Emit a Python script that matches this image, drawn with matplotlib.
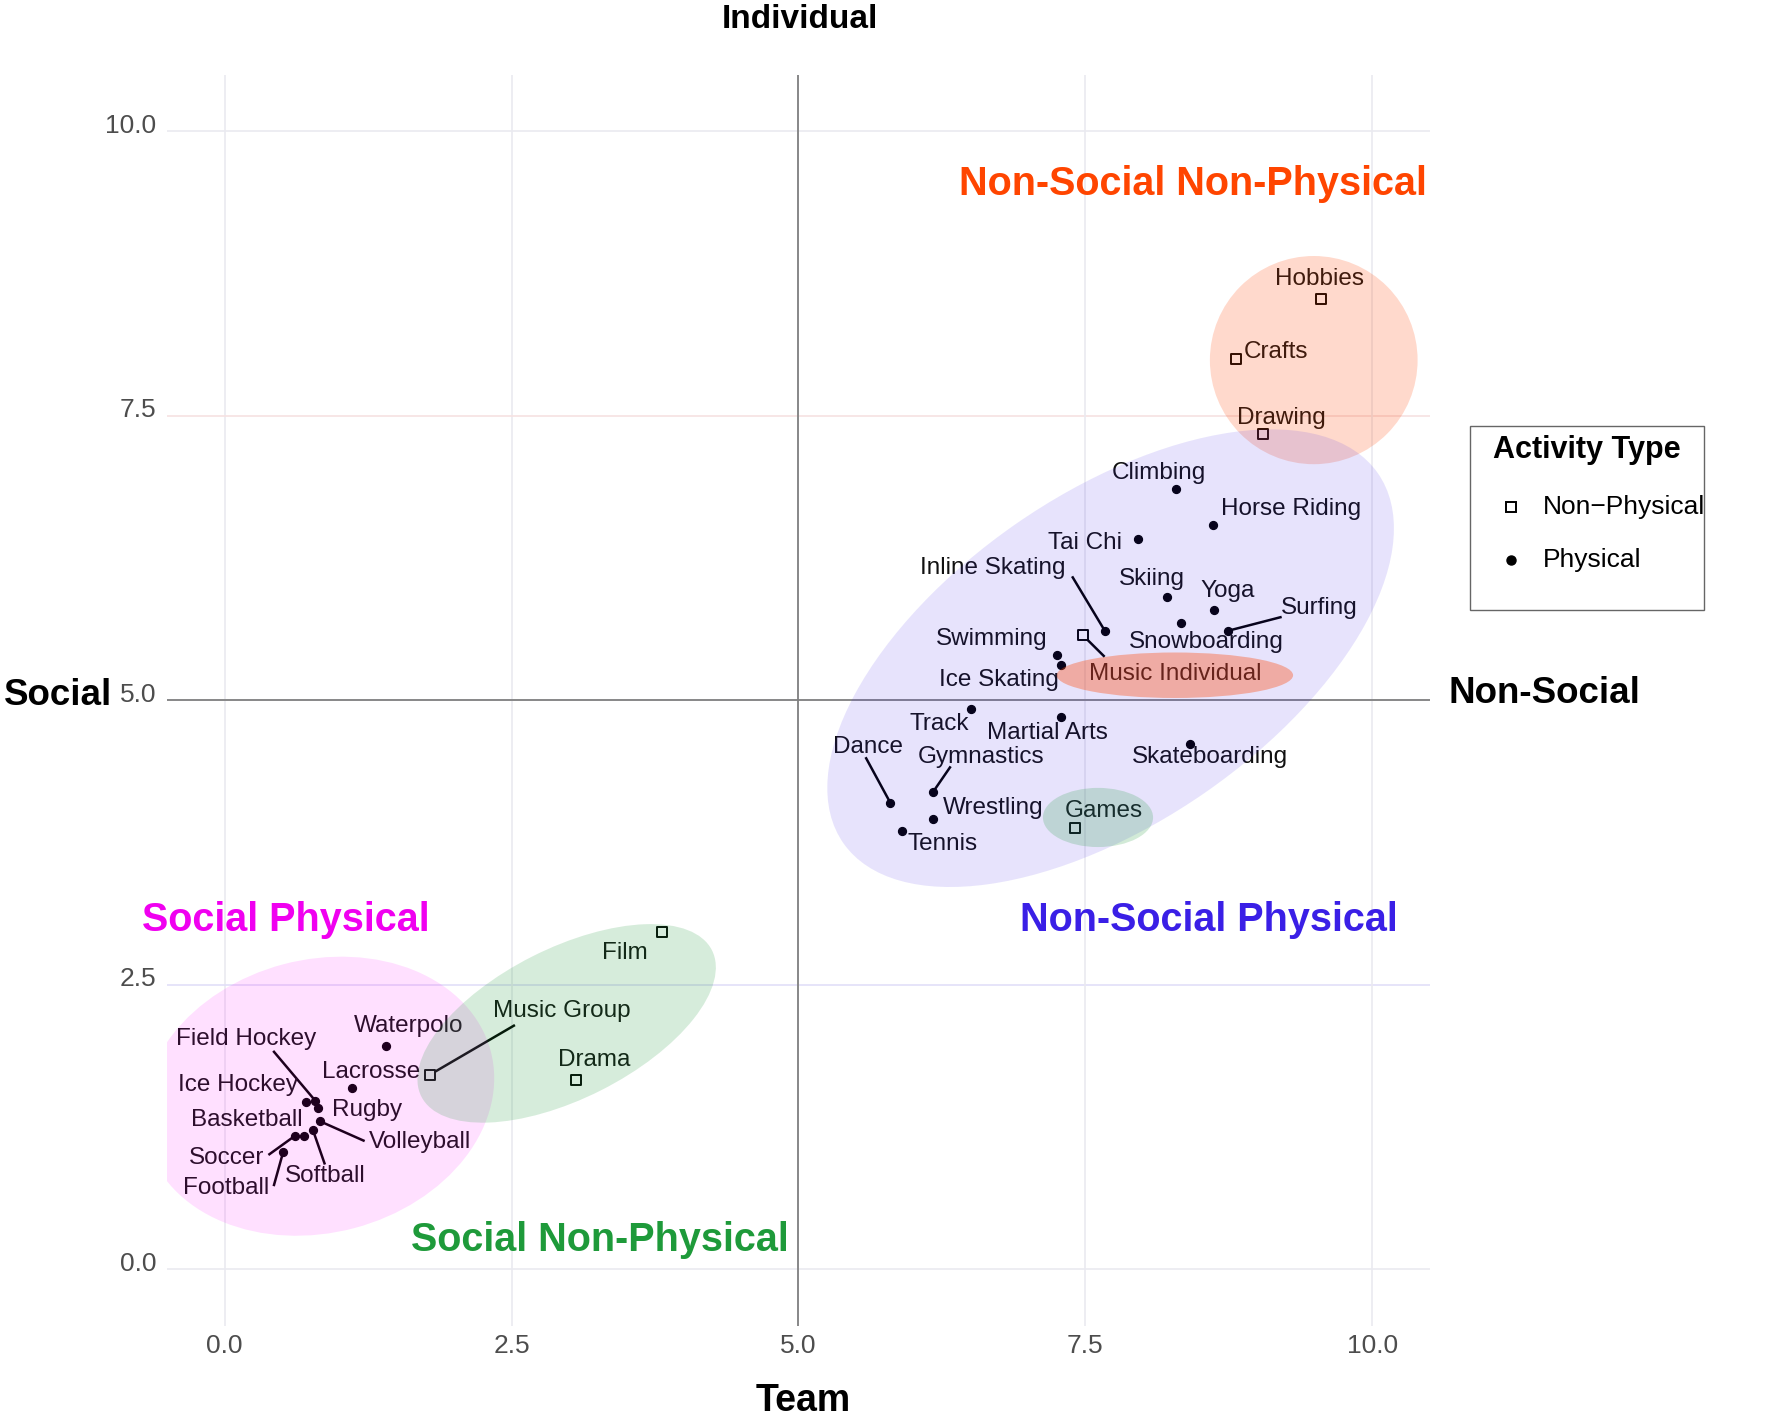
import numpy as np
import matplotlib
matplotlib.use("Agg")
import matplotlib.pyplot as plt
from matplotlib.patches import Ellipse, Rectangle
from matplotlib.lines import Line2D
from matplotlib.transforms import ScaledTranslation

plt.rcParams['font.family'] = ['Liberation Sans', 'DejaVu Sans']

# activities and their scores
activities = ["Hobbies", "Crafts", "Drawing", "Music Individual", "Games", "Film",
              "Music Group", "Drama",
              "Climbing", "Horse Riding", "Tai Chi", "Inline Skating", "Skiing", "Yoga",
              "Snowboarding", "Surfing", "Swimming", "Ice Skating", "Track", "Martial Arts",
              "Skateboarding", "Gymnastics", "Dance", "Wrestling", "Tennis", "Waterpolo",
              "Lacrosse", "Field Hockey", "Ice Hockey", "Rugby", "Volleyball", "Softball",
              "Basketball", "Soccer", "Football"]
team_score = [9.55, 8.81, 9.05, 7.48, 7.41, 3.81, 1.79, 3.06,
              8.29, 8.61, 7.96, 7.67, 8.21, 8.62, 8.33, 8.74, 7.25, 7.29, 6.50, 7.29,
              8.41, 6.17, 5.80, 6.17, 5.90, 1.41, 1.11, 0.79, 0.71, 0.81, 0.83, 0.77,
              0.69, 0.61, 0.51]
social_score = [8.53, 8.00, 7.34, 5.57, 3.88, 2.96, 1.71, 1.66,
                6.86, 6.54, 6.42, 5.61, 5.91, 5.79, 5.68, 5.61, 5.40, 5.31, 4.92, 4.85,
                4.62, 4.19, 4.10, 3.96, 3.85, 1.96, 1.59, 1.48, 1.47, 1.42, 1.30, 1.22,
                1.17, 1.17, 1.03]
activity_type = ["Non\u2212Physical"] * 8 + ["Physical"] * 27

quadrant_names = ["Non-Social Non-Physical", "Non-Social Physical",
                  "Social Physical", "Social Non-Physical"]
ticks = [0.0, 2.5, 5.0, 7.5, 10.0]

# label placement (repel-style), centre of each label
label_pos = {
    "Hobbies": (9.54, 8.70), "Crafts": (9.16, 8.06), "Drawing": (9.21, 7.48),
    "Music Individual": (8.28, 5.23), "Games": (7.66, 4.03), "Film": (3.49, 2.78),
    "Music Group": (2.94, 2.27), "Drama": (3.22, 1.84),
    "Climbing": (8.14, 7.00), "Horse Riding": (9.29, 6.68), "Tai Chi": (7.50, 6.38),
    "Inline Skating": (6.69, 6.16), "Skiing": (8.08, 6.07), "Yoga": (8.74, 5.96),
    "Snowboarding": (8.55, 5.51), "Surfing": (9.54, 5.81), "Swimming": (6.68, 5.54),
    "Ice Skating": (6.75, 5.18), "Track": (6.23, 4.79), "Martial Arts": (7.17, 4.71),
    "Skateboarding": (8.59, 4.50), "Gymnastics": (6.59, 4.50), "Dance": (5.61, 4.59),
    "Wrestling": (6.70, 4.05), "Tennis": (6.26, 3.74), "Waterpolo": (1.60, 2.14),
    "Lacrosse": (1.28, 1.73), "Field Hockey": (0.19, 2.02), "Ice Hockey": (0.12, 1.62),
    "Rugby": (1.24, 1.40), "Volleyball": (1.70, 1.12), "Softball": (0.88, 0.82),
    "Basketball": (0.19, 1.31), "Soccer": (0.02, 0.98), "Football": (0.01, 0.71),
}
# where each leader segment meets its label
segment_end = {
    "Field Hockey": (0.43, 1.91), "Football": (0.43, 0.74), "Soccer": (0.39, 1.01),
    "Softball": (0.87, 0.93), "Volleyball": (1.21, 1.13), "Music Group": (2.52, 2.14),
    "Inline Skating": (7.39, 6.08), "Music Individual": (7.66, 5.39),
    "Surfing": (9.20, 5.73), "Dance": (5.59, 4.49), "Gymnastics": (6.32, 4.41),
}

fig = plt.figure(figsize=(17.72, 14.17), dpi=100)
ax = fig.add_axes([0.0944, 0.0642, 0.7124, 0.8832])
ax.set_xlim(-0.5, 10.5)
ax.set_ylim(-0.5, 10.5)
for s in ax.spines.values():
    s.set_visible(False)
ax.set_xticks(ticks)
ax.set_yticks(ticks)
ax.set_xticklabels([f"{t:.1f}" for t in ticks])
ax.set_yticklabels([f"{t:.1f}" for t in ticks])
ax.tick_params(length=0, labelsize=19, labelcolor='#4D4D4D')
ax.tick_params(axis='y', pad=8)
ax.tick_params(axis='x', pad=6)
for lab in ax.get_yticklabels():
    lab.set_transform(lab.get_transform() + ScaledTranslation(0, 0.08, fig.dpi_scale_trans))

grid_col = {0.0: '#EAEAF0', 2.5: '#E2DFF8', 5.0: '#EAEAF0', 7.5: '#F6E2E2', 10.0: '#EAEAF0'}
for t in ticks:
    ax.axhline(t, color=grid_col[t], lw=1.2, zorder=0)
    ax.axvline(t, color='#EAEAF0', lw=1.2, zorder=0)
ax.axhline(5, color='#808080', lw=1.3, zorder=1)
ax.axvline(5, color='#808080', lw=1.3, zorder=1)

# points
for t, mk in [("Non\u2212Physical", 's'), ("Physical", 'o')]:
    idx = [i for i, a in enumerate(activity_type) if a == t]
    xs = [team_score[i] for i in idx]
    ys = [social_score[i] for i in idx]
    if mk == 's':
        ax.scatter(xs, ys, marker='s', s=50, facecolors='white', edgecolors='black',
                   linewidths=1.4, zorder=3)
    else:
        ax.scatter(xs, ys, marker='o', s=32, color='black', zorder=3)

for name in activities:
    lx, ly = label_pos[name]
    ax.text(lx, ly, name, fontsize=17.5, ha='center', va='center',
            color='#111111', zorder=3)

for name, (ex, ey) in segment_end.items():
    i = activities.index(name)
    ax.plot([ex, team_score[i]], [ey, social_score[i]], color='black',
            lw=1.8, zorder=2)

# group ellipses (drawn over the marks)
ellipses = [
    ((9.49, 7.99), 1.81, 1.83, 0, '#FF4500', 0.20),
    ((7.72, 5.37), 5.68, 2.88, 35, '#3C1FE8', 0.12),
    ((0.82, 1.52), 3.10, 2.40, 15, '#FF00FF', 0.12),
    ((2.98, 2.16), 2.84, 1.32, 27, '#1E9A3A', 0.18),
    ((8.28, 5.22), 2.06, 0.40, 0, '#FF4500', 0.35),
    ((7.61, 3.97), 0.96, 0.52, 0, '#1E9A3A', 0.20),
]
for c, w, h, ang, col, al in ellipses:
    ax.add_patch(Ellipse(c, w, h, angle=ang, facecolor=col, alpha=al,
                         edgecolor='none', zorder=4))

# quadrant titles
quad_pos = [(8.44, 9.54), (8.58, 3.07), (0.53, 3.07), (3.27, 0.26)]
quad_col = ['#FF4500', '#3A1FE6', '#F000F0', '#1E9A3A']
for q, (qx, qy), qc in zip(quadrant_names, quad_pos, quad_col):
    ax.text(qx, qy, q, fontsize=28.5, fontweight='bold', color=qc,
            ha='center', va='center', zorder=5)

# direction labels outside the panel
ax.text(5.01, 10.98, "Individual", fontsize=24, fontweight='bold', ha='center',
        va='center', clip_on=False)
ax.text(5.04, -1.16, "Team", fontsize=27, fontweight='bold', ha='center',
        va='center', clip_on=False)
ax.text(-1.45, 5.04, "Social", fontsize=26.5, fontweight='bold', ha='center',
        va='center', clip_on=False)
ax.text(11.50, 5.06, "Non-Social", fontsize=26.5, fontweight='bold', ha='center',
        va='center', clip_on=False)

# legend box (figure pixel layout)
W, H = 1772, 1417
fig.add_artist(Rectangle((1470 / W, 1 - 610 / H), 234 / W, 184 / H, transform=fig.transFigure,
                         facecolor='white', edgecolor='#666666', lw=1.0))
fig.text(1493 / W, 1 - 450 / H, "Activity Type", fontsize=22, fontweight='bold',
         ha='left', va='center')
legend_rows = [("Non\u2212Physical", 's', 507), ("Physical", 'o', 560)]
for lab, mk, yy in legend_rows:
    if mk == 's':
        m = Line2D([1511 / W], [1 - yy / H], marker='s', ls='none', markersize=7.5,
                   markerfacecolor='white', markeredgecolor='black', markeredgewidth=1.4,
                   transform=fig.transFigure)
    else:
        m = Line2D([1511 / W], [1 - yy / H], marker='o', ls='none', markersize=6.5,
                   color='black', transform=fig.transFigure)
    fig.add_artist(m)
    fig.text(1543 / W, 1 - yy / H, lab, fontsize=19, ha='left', va='center')

fig.savefig("out.png", dpi=100)
